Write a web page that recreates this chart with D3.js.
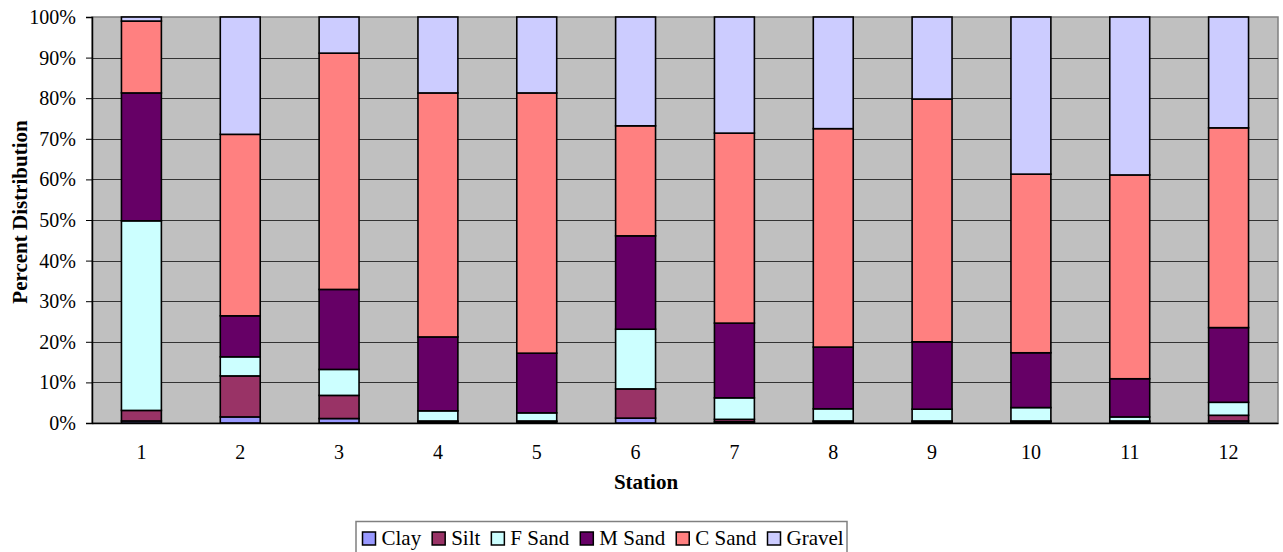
<!DOCTYPE html>
<html>
<head>
<meta charset="utf-8">
<script src="https://cdn.jsdelivr.net/npm/d3@7"></script>
<style>
  html, body { margin: 0; padding: 0; background: #fff; }
  svg { display: block; }
</style>
</head>
<body>
<svg id="chart" width="1283" height="552"></svg>
<script>
const stations = ["1","2","3","4","5","6","7","8","9","10","11","12"];
const seriesNames = ["Clay","Silt","F Sand","M Sand","C Sand","Gravel"];
const clay   = [0.5, 1.5, 1.1, 0.3, 0.3, 1.2, 0.3, 0.3, 0.3, 0.3, 0.3, 0.5];
const silt   = [2.6, 10.1, 5.7, 0.2, 0.2, 7.2, 0.6, 0.2, 0.2, 0.2, 0.2, 1.4];
const fSand  = [46.7, 4.7, 6.4, 2.5, 2.0, 14.7, 5.3, 3.0, 2.9, 3.3, 1.0, 3.2];
const mSand  = [31.5, 10.1, 19.7, 18.2, 14.7, 23.0, 18.4, 15.2, 16.6, 13.5, 9.4, 18.4];
const cSand  = [17.7, 44.7, 58.2, 60.1, 64.1, 27.1, 46.8, 53.8, 59.8, 44.0, 50.2, 49.2];
const gravel = [1.0, 28.9, 8.9, 18.7, 18.7, 26.8, 28.6, 27.5, 20.2, 38.7, 38.9, 27.3];
const yTicks = [0, 10, 20, 30, 40, 50, 60, 70, 80, 90, 100];
const colors = ["#9999FF", "#993366", "#CCFFFF", "#660066", "#FF8080", "#CCCCFF"];

const FONT = "'Liberation Serif', 'Times New Roman', serif";
const seriesValues = [clay, silt, fSand, mSand, cSand, gravel];
const rows = stations.map((s, i) => {
  const r = { station: s };
  seriesNames.forEach((n, k) => r[n] = seriesValues[k][i]);
  return r;
});
const stacked = d3.stack().keys(seriesNames).offset(d3.stackOffsetExpand)(rows);

const svg = d3.select("#chart");
const L = 92, R = 1278, T = 17, B = 423;

const x = d3.scaleBand().domain(stations).range([L, R]).paddingInner(0.596).paddingOuter(0.298);
const y = d3.scaleLinear().domain([0, 1]).range([B, T]);

// plot background
svg.append("rect").attr("x", L).attr("y", T).attr("width", R - L).attr("height", B - T)
  .attr("fill", "#C0C0C0").attr("stroke", "#808080").attr("stroke-width", 1.5);

// gridlines
svg.append("g").selectAll("line").data(yTicks.filter(v => v > 0 && v < 100)).join("line")
  .attr("x1", L).attr("x2", R)
  .attr("y1", d => Math.round(y(d / 100)) + 0.5).attr("y2", d => Math.round(y(d / 100)) + 0.5)
  .attr("stroke", "#333").attr("stroke-width", 1);

// bars
svg.append("g").selectAll("g").data(stacked).join("g")
  .attr("fill", (d, i) => colors[i])
  .selectAll("rect").data(d => d).join("rect")
  .attr("x", d => x(d.data.station))
  .attr("width", x.bandwidth())
  .attr("y", d => y(d[1]))
  .attr("height", d => Math.max(0, y(d[0]) - y(d[1])))
  .attr("stroke", "#000").attr("stroke-width", 1.6);

// y axis
const yAxis = d3.axisLeft(y).tickValues(yTicks.map(v => v / 100)).tickFormat(d => Math.round(d * 100) + "%").tickSize(6).tickPadding(10);
const gy = svg.append("g").attr("transform", `translate(${L},0)`).call(yAxis);
gy.select(".domain").attr("stroke", "#000").attr("stroke-width", 1.5);
gy.selectAll(".tick line").attr("stroke", "#000");
gy.selectAll(".tick text").style("font-family", FONT).style("font-size", "20px").attr("fill", "#000");

// x axis
const xAxis = d3.axisBottom(x).tickSize(0).tickPadding(22);
const gx = svg.append("g").attr("transform", `translate(0,${B})`).call(xAxis);
gx.select(".domain").attr("stroke", "#000").attr("stroke-width", 1.5);
gx.selectAll(".tick text").style("font-family", FONT).style("font-size", "20px").attr("fill", "#000");

// axis titles
svg.append("text").attr("x", 646).attr("y", 489).attr("text-anchor", "middle")
  .style("font-family", FONT).style("font-size", "21px").style("font-weight", "bold").attr("fill", "#000").text("Station");
svg.append("text").attr("transform", "translate(27,212) rotate(-90)").attr("text-anchor", "middle")
  .style("font-family", FONT).style("font-size", "21px").style("font-weight", "bold").attr("fill", "#000").text("Percent Distribution");

// legend
const lg = svg.append("g");
lg.append("rect").attr("x", 356).attr("y", 521.5).attr("width", 491).attr("height", 60)
  .attr("fill", "#fff").attr("stroke", "#808080").attr("stroke-width", 1.5);
let cx = 362.5;
seriesNames.forEach((n, i) => {
  lg.append("rect").attr("x", cx).attr("y", 532).attr("width", 13).attr("height", 13)
    .attr("fill", colors[i]).attr("stroke", "#000").attr("stroke-width", 1.5);
  const t = lg.append("text").attr("x", cx + 19).attr("y", 545)
    .style("font-family", FONT).style("font-size", "21px").attr("fill", "#000").text(n);
  cx += 19 + t.node().getComputedTextLength() + 11;
});
</script>
</body>
</html>
